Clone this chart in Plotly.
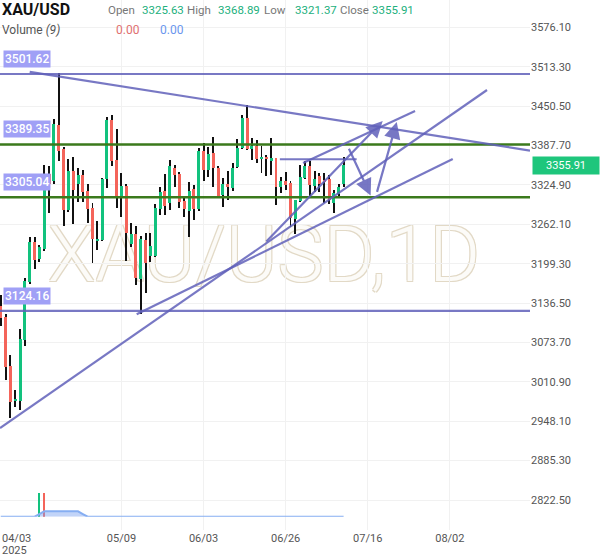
import plotly.graph_objects as go
import pandas as pd

# ---------------- data ----------------
opens = [3132.0, 3114.2, 3036.2, 2980.4, 2980.8, 3077.6, 3170.5, 3234.3, 3206.7, 3222.7,
         3341.7, 3331.5, 3420.3, 3381.6, 3284.8, 3347.0, 3325.8, 3340.6, 3315.1, 3287.6,
         3235.4, 3237.0, 3333.8, 3428.3, 3364.6, 3305.1, 3323.1, 3230.2, 3246.6, 3174.8,
         3237.0, 3212.0, 3212.0, 3286.4, 3315.1, 3295.5, 3351.3, 3342.2, 3299.2, 3283.7,
         3318.3, 3286.4, 3379.4, 3348.6, 3375.2, 3351.3, 3308.8, 3326.3, 3319.4, 3353.9,
         3383.2, 3431.0, 3381.6, 3387.3, 3366.6, 3368.9, 3364.5, 3367.2, 3322.0, 3331.1,
         3327.4, 3270.0, 3299.6, 3335.4, 3355.0, 3323.6, 3339.0, 3331.1, 3333.8, 3296.5,
         3310.4, 3325.63]
highs = [3150.0, 3119.0, 3053.7, 2997.9, 3095.1, 3176.4, 3242.3, 3242.3, 3229.0, 3356.6,
         3355.0, 3429.9, 3502.8, 3385.3, 3366.1, 3369.3, 3352.3, 3348.6, 3325.8, 3296.0,
         3267.3, 3336.0, 3433.6, 3436.3, 3413.5, 3344.3, 3326.0, 3264.6, 3259.3, 3243.4,
         3248.6, 3248.6, 3294.4, 3322.0, 3343.0, 3364.5, 3356.6, 3345.0, 3306.0, 3329.9,
         3324.7, 3383.2, 3391.2, 3384.8, 3400.7, 3355.0, 3335.4, 3347.5, 3359.8, 3397.5,
         3436.3, 3452.2, 3400.1, 3396.4, 3386.9, 3372.5, 3399.6, 3368.0, 3337.0, 3345.4,
         3331.0, 3300.8, 3356.6, 3362.9, 3362.9, 3347.5, 3343.3, 3344.3, 3340.6, 3316.7,
         3326.3, 3368.89]
lows = [3100.0, 3013.8, 2953.2, 2970.8, 2966.0, 3068.0, 3166.9, 3190.3, 3202.0, 3219.5,
        3280.5, 3326.3, 3363.4, 3259.3, 3281.6, 3262.5, 3297.6, 3297.6, 3264.6, 3199.9,
        3221.1, 3235.4, 3320.4, 3355.0, 3287.6, 3274.2, 3204.0, 3225.8, 3165.3, 3119.0,
        3152.0, 3202.4, 3210.0, 3276.9, 3276.9, 3284.8, 3322.0, 3288.0, 3274.2, 3242.3,
        3268.9, 3283.2, 3331.1, 3337.9, 3322.0, 3306.0, 3290.1, 3300.8, 3315.1, 3351.3,
        3381.6, 3380.0, 3364.5, 3360.2, 3344.3, 3339.0, 3340.6, 3292.8, 3311.5, 3316.7,
        3257.3, 3246.1, 3298.0, 3334.3, 3306.0, 3314.0, 3314.0, 3295.5, 3294.4, 3280.5,
        3307.2, 3321.37]
closes = [3112.0, 3034.6, 2978.8, 2982.7, 3078.7, 3172.1, 3234.3, 3205.1, 3225.4, 3341.7,
          3325.8, 3421.9, 3378.9, 3284.8, 3347.0, 3316.7, 3340.6, 3314.0, 3285.9, 3238.6,
          3238.6, 3333.8, 3428.3, 3363.0, 3305.1, 3323.1, 3247.7, 3246.6, 3175.9, 3238.6,
          3199.9, 3227.9, 3288.5, 3314.0, 3291.7, 3355.0, 3340.6, 3298.0, 3286.4, 3315.1,
          3286.4, 3379.4, 3348.6, 3374.1, 3351.3, 3307.2, 3326.3, 3321.0, 3351.3, 3383.2,
          3431.0, 3381.6, 3387.3, 3365.7, 3368.9, 3365.7, 3367.2, 3322.0, 3331.1, 3324.7,
          3271.6, 3300.8, 3337.9, 3355.0, 3324.7, 3333.8, 3326.3, 3329.5, 3300.8, 3311.5,
          3322.0, 3355.91]
volume = [0] * 72
volume[8] = 1.0
volume[9] = 1.0
vol_colors = ["#12c27e" if i == 8 else "#f4645a" for i in range(72)]

ytick_vals = [2822.50, 2885.30, 2948.10, 3010.90, 3073.70, 3136.50, 3199.30,
              3262.10, 3324.90, 3387.70, 3450.50, 3513.30, 3576.10]
xtick_bars = [25, 42, 59, 76, 93]
xtick_labels = ["05/09", "06/03", "06/26", "07/16", "08/02"]
first_label = ["04/03", "2025"]

purple_levels = [3501.62, 3124.16]
green_levels = [3389.35, 3305.04]
level_labels = [3501.62, 3389.35, 3305.04, 3124.16]
last_close = 3355.91

# drawn trend lines: (bar0, price0, bar1, price1)
trend_lines = [
    (6.0, 3505.0, 109.6, 3379.5),
    (-0.16, 2937.3, 100.7, 3476.1),
    (28.15, 3118.6, 93.6, 3366.1),
    (57.8, 3365.7, 73.7, 3365.7),
    (62.6, 3359.8, 85.8, 3442.7),
]
# drawn arrows: (tail bar, tail price, head bar, head price)
arrows = [
    (71.96, 3384.8, 76.6, 3308.0),
    (77.84, 3311.4, 82.0, 3425.1),
    (54.7, 3232.2, 79.1, 3426.7),
]

# --------------- figure ---------------
GREEN = "#12c27e"
RED = "#f4645a"
PURPLE = "rgba(96,96,186,0.85)"
n = len(opens)
idx = list(range(n))
body_base = [min(o, c) for o, c in zip(opens, closes)]
body_h = [max(abs(c - o), 1.6) for o, c in zip(opens, closes)]
body_col = [GREEN if c >= o else RED for o, c in zip(opens, closes)]
wick_h = [h - l for h, l in zip(highs, lows)]
vol_ma = pd.Series(volume).rolling(9, min_periods=1).mean().tolist()

fig = go.Figure()
# watermark on base subplot (drawn below price subplot)
fig.add_trace(go.Scatter(
    x=[54.5], y=[0.507], mode="text", text=["XAU/USD,1D"], xaxis="x", yaxis="y",
    textfont=dict(family="Roboto", size=78, color="#fcfbf8", weight=300,
                  shadow="1px 1px 0 #e2d9c6, -1px -1px 0 #e2d9c6, 1px -1px 0 #e2d9c6, -1px 1px 0 #e2d9c6"),
    hoverinfo="skip", showlegend=False))
fig.add_trace(go.Bar(x=idx, y=wick_h, base=lows, width=0.2, marker=dict(color="#111111", line=dict(width=0)),
                     xaxis="x", yaxis="y2", showlegend=False))
fig.add_trace(go.Bar(x=idx, y=body_h, base=body_base, width=0.62,
                     marker=dict(color=body_col, line=dict(width=0)),
                     xaxis="x", yaxis="y2", showlegend=False))
# volume
fig.add_trace(go.Scatter(x=idx, y=vol_ma, mode="lines", line=dict(color="#86aef2", width=2),
                         fill="tozeroy", fillcolor="rgba(120,160,240,0.45)",
                         xaxis="x", yaxis="y3", showlegend=False))
fig.add_trace(go.Bar(x=idx, y=volume, width=0.42, marker=dict(color=vol_colors, line=dict(width=0)),
                     xaxis="x", yaxis="y3", showlegend=False))

shapes = []
for lv in purple_levels:
    shapes.append(dict(type="line", xref="paper", x0=0, x1=1, yref="y2", y0=lv, y1=lv,
                       line=dict(color=PURPLE, width=2.2)))
for lv in green_levels:
    shapes.append(dict(type="line", xref="paper", x0=0, x1=1, yref="y2", y0=lv, y1=lv,
                       line=dict(color="#3b7a1c", width=2.5)))
for (a, b, c, d) in trend_lines:
    shapes.append(dict(type="line", xref="x", yref="y2", x0=a, y0=b, x1=c, y1=d,
                       line=dict(color=PURPLE, width=2.2)))

H = 530.0
W = 530.0
def py(px):
    return 1 - px / H
def pxx(px):
    return px / W

ann = []
for (a, b, c, d) in arrows:
    ann.append(dict(x=c, y=d, ax=a, ay=b, xref="x", yref="y2", axref="x", ayref="y2",
                    showarrow=True, arrowhead=2, arrowsize=1.5, arrowwidth=2.2,
                    arrowcolor=PURPLE, text=""))
for lv in level_labels:
    ann.append(dict(xref="paper", x=pxx(3), xanchor="left", yref="y2", y=lv, yshift=15,
                    text=f"{lv:.2f}", showarrow=False, bgcolor="#a0a0f6", borderpad=1,
                    font=dict(family="Roboto", size=12, color="white", weight=500)))
ann.append(dict(xref="paper", x=pxx(532), xanchor="left", yref="y2", y=last_close,
                text=f"{last_close:.2f}", showarrow=False, bgcolor="#1ec67c", borderpad=2,
                width=62, align="center", font=dict(family="Roboto", size=11, color="white")))
# header
ann.append(dict(xref="paper", yref="paper", x=0, y=py(10), xanchor="left", yanchor="middle",
                text="<b>XAU/USD</b>", showarrow=False, font=dict(family="Roboto", size=16, color="#111")))
hdr = [("Open", 106, "#777"), ("3325.63", 140, "#22b07d"), ("High", 185, "#777"), ("3368.89", 216, "#22b07d"),
       ("Low", 262, "#777"), ("3321.37", 293, "#22b07d"), ("Close", 338, "#777"), ("3355.91", 370, "#22b07d")]
for t, xp, col in hdr:
    ann.append(dict(xref="paper", yref="paper", x=pxx(xp), y=py(10), xanchor="left", yanchor="middle",
                    text=t, showarrow=False, font=dict(family="Roboto", size=11.5, color=col)))
ann.append(dict(xref="paper", yref="paper", x=0, y=py(30), xanchor="left", yanchor="middle",
                text="Volume <i>(9)</i>", showarrow=False, font=dict(family="Roboto", size=12, color="#555")))
ann.append(dict(xref="paper", yref="paper", x=pxx(114), y=py(30), xanchor="left", yanchor="middle",
                text="0.00", showarrow=False, font=dict(family="Roboto", size=12, color="#e07070")))
ann.append(dict(xref="paper", yref="paper", x=pxx(158), y=py(30), xanchor="left", yanchor="middle",
                text="0.00", showarrow=False, font=dict(family="Roboto", size=12, color="#6a96ee")))
for k, t in enumerate(first_label):
    ann.append(dict(xref="paper", yref="paper", x=0, y=py(538 + 12 * k), xanchor="left", yanchor="middle",
                    text=t, showarrow=False, font=dict(family="Roboto", size=11, color="#555")))

fig.update_layout(
    width=600, height=558, margin=dict(l=0, r=70, t=0, b=28),
    paper_bgcolor="white", plot_bgcolor="rgba(0,0,0,0)", barmode="overlay", bargap=0,
    font=dict(family="Roboto", size=11, color="#555"),
    showlegend=False, shapes=shapes, annotations=ann,
    xaxis=dict(range=[-0.155, 109.6], tickvals=xtick_bars, ticktext=xtick_labels,
               showgrid=True, gridcolor="#f1f1f1", gridwidth=1, zeroline=False, showline=False,
               ticks="", tickfont=dict(size=11, color="#555"), anchor="y"),
    yaxis=dict(range=[0, 1], visible=False, domain=[0, 1], fixedrange=True),
    yaxis2=dict(range=[2774.7, 3619.6], tickvals=ytick_vals, ticktext=[f"{v:.2f}" for v in ytick_vals],
                side="right", anchor="x", domain=[0, 1], showgrid=True, gridcolor="#f1f1f1",
                zeroline=False, showline=False, ticks="", tickfont=dict(size=11, color="#555")),
    yaxis3=dict(range=[0, 1.657], domain=[0.0251, 0.1], anchor="x", visible=False),
)
fig.write_html("out.html")
